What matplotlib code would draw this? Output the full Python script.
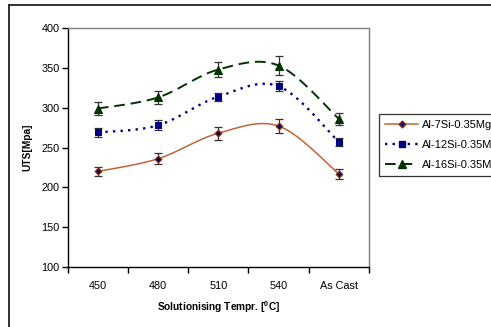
import numpy as np
import matplotlib
matplotlib.use("Agg")
import matplotlib.pyplot as plt
from matplotlib.lines import Line2D

plt.rcParams['font.family'] = ['Liberation Sans', 'DejaVu Sans']
plt.rcParams['mathtext.fontset'] = 'custom'
plt.rcParams['mathtext.bf'] = 'Liberation Sans:bold'
plt.rcParams['mathtext.rm'] = 'Liberation Sans'

categories = ['450', '480', '510', '540', 'As Cast']
names = ['Al-7Si-0.35Mg', 'Al-12Si-0.35Mg', 'Al-16Si-0.35Mg']
si7 = [220, 236, 268, 277, 217]
si12 = [269, 278, 314, 327, 257]
si16 = [299, 313, 348, 353, 286]
err7 = [6, 7, 8, 9, 6]
err12 = [6, 6, 5, 6, 5]
err16 = [8, 8, 10, 12, 8]

def smooth(x, y, n=30, t=1/6):
    x = np.asarray(x, float); y = np.asarray(y, float)
    px = np.concatenate([[x[0]], x, [x[-1]]])
    py = np.concatenate([[y[0]], y, [y[-1]]])
    xs, ys = [], []
    for i in range(1, len(px) - 2):
        p0 = np.array([px[i], py[i]]); p3 = np.array([px[i+1], py[i+1]])
        p1 = p0 + t * (np.array([px[i+1], py[i+1]]) - np.array([px[i-1], py[i-1]]))
        p2 = p3 - t * (np.array([px[i+2], py[i+2]]) - np.array([px[i], py[i]]))
        s = np.linspace(0, 1, n)[:, None]
        b = (1-s)**3*p0 + 3*(1-s)**2*s*p1 + 3*(1-s)*s**2*p2 + s**3*p3
        xs.append(b[:, 0]); ys.append(b[:, 1])
    return np.concatenate(xs), np.concatenate(ys)

fig = plt.figure(figsize=(4.91, 3.27), dpi=100)
ax = fig.add_axes([0.138, 0.1835, 0.6135, 0.7305])

x = np.arange(len(categories))
styles = [
    dict(vals=si7, err=err7, color='#C0643A', ls='-', lw=1.1, marker='D', ms=3.5, mfc='#000080', mec='#993300'),
    dict(vals=si12, err=err12, color='#000080', ls=(0, (1, 2.2)), lw=1.7, marker='s', ms=5, mfc='#000080', mec='#000080'),
    dict(vals=si16, err=err16, color='#003300', ls=(0, (5.5, 3)), lw=1.4, marker='^', ms=6, mfc='#003300', mec='#003300'),
]
for st, name in zip(styles, names):
    sx, sy = smooth(x, st['vals'])
    ax.plot(sx, sy, color=st['color'], ls=st['ls'], lw=st['lw'], zorder=2)
    ax.errorbar(x, st['vals'], yerr=st['err'], fmt='none', ecolor='#333333', elinewidth=0.9, capsize=3, capthick=0.9, zorder=3)
    ax.plot(x, st['vals'], ls='none', marker=st['marker'], ms=st['ms'], mfc=st['mfc'], mec=st['mec'], mew=0.8, zorder=4)

handles = [Line2D([], [], color=st['color'], ls=st['ls'], lw=st['lw'], marker=st['marker'], ms=st['ms'],
                  mfc=st['mfc'], mec=st['mec']) for st in styles]
leg = fig.legend(handles, names, loc='upper left', bbox_to_anchor=(379/491, 1-114/327), fontsize=8,
                 frameon=True, fancybox=False, edgecolor='black', handlelength=3.0, borderpad=0.55,
                 labelspacing=0.9, handletextpad=0.3, borderaxespad=0)
leg.get_frame().set_linewidth(0.9)

ax.set_xlim(-0.5, len(categories) - 0.5)
ax.set_ylim(100, 400)
ax.set_yticks(np.arange(100, 401, 50))
ax.set_xticks(x)
ax.set_xticklabels(categories)
ax.set_xticks(np.arange(-0.5, len(categories), 1), minor=True)
ax.tick_params(axis='x', which='major', length=0, labelsize=7.8, pad=10)
ax.tick_params(axis='x', which='minor', length=4, width=1, direction='out')
ax.tick_params(axis='y', length=4, width=1, direction='out', labelsize=7.8, pad=2)
for s in ['left', 'bottom']:
    ax.spines[s].set_color('black'); ax.spines[s].set_linewidth(1.0)
for s in ['top', 'right']:
    ax.spines[s].set_color('#808080'); ax.spines[s].set_linewidth(1.0)

ax.set_ylabel('UTS[Mpa]', fontsize=7.3, fontweight='bold', labelpad=6)
ax.set_xlabel(r'Solutionising Tempr. [$\mathbf{^{0}}$C]', fontsize=7.3, fontweight='bold', labelpad=6)

fig.add_artist(Line2D([9/491, 1], [1-5/327, 1-5/327], transform=fig.transFigure, color='#222222', lw=1.3))
fig.add_artist(Line2D([9/491, 9/491], [0, 1-5/327], transform=fig.transFigure, color='#222222', lw=1.3))

fig.savefig('out.png', dpi=100)
